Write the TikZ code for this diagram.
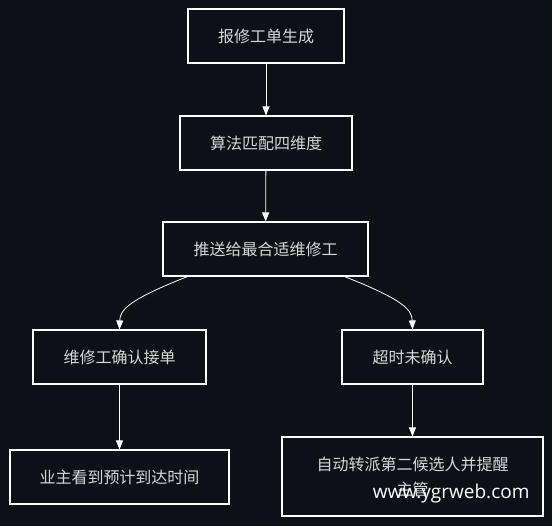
\documentclass[tikz,border=0pt]{standalone}
\usepackage{fontspec}
\setmainfont{Noto Sans CJK SC}
\newfontfamily\markfont{Open Sans}
\usetikzlibrary{arrows.meta}
\definecolor{bgdark}{HTML}{0D1117}
\definecolor{txtgray}{HTML}{D6D6D6}

\begin{document}
\begin{tikzpicture}[x=1pt, y=-1pt,
  box/.style = {draw=white, line width=1.1pt, fill=bgdark, text=txtgray, inner sep=0pt,
                minimum height=54pt, font=\fontsize{16}{25}\selectfont, align=center},
  flow/.style = {draw=white, line width=0.8pt, -{Triangle[width=7pt,length=9pt]}}]
\fill[bgdark] (0,0) rectangle (552,526);
\useasboundingbox (0,0) rectangle (552,526);
\node[box, minimum width=156pt](s1) at (266,36) {报修工单生成};
\node[box, minimum width=172pt](s2) at (266,143) {算法匹配四维度};
\node[box, minimum width=205pt](s3) at (265.5,249) {推送给最合适维修工};
\node[box, minimum width=173pt](ok) at (119.5,357) {维修工确认接单};
\node[box, minimum width=141pt](to) at (412.5,357) {超时未确认};
\node[box, minimum width=219pt](ok2) at (119.5,477) {业主看到预计到达时间};
\node[box, minimum width=261pt, minimum height=79pt](to2) at (412.5,476.5) {自动转派第二候选人并提醒\\主管};
\node[text=white, font=\markfont\fontsize{19}{22}\selectfont, anchor=east](wm) at (533,494) {www.ygrweb.com};
\draw[flow] (s1) -- (s2);
\draw[flow] (s2) -- (s3);
\draw[flow] ([xshift=-78pt]s3.south) .. controls (128,300) and (120,310) .. (ok.north);
\draw[flow] ([xshift=79pt]s3.south) .. controls (404,300) and (412,310) .. (to.north);
\draw[flow] (ok) -- (ok2);
\draw[flow] (to) -- (to2);
\end{tikzpicture}
\end{document}
